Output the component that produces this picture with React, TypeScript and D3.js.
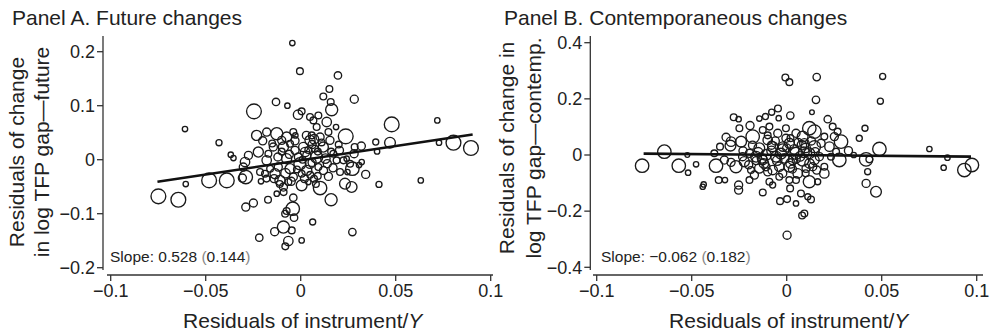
import React from 'react';
import * as d3 from 'd3';

const FONT = '"Liberation Sans", Arial, Helvetica, sans-serif';

const xTicks = [-0.1, -0.05, 0, 0.05, 0.1];
const xTickLabels = ['−0.1', '−0.05', '0', '0.05', '0.1'];
const aYTicks = [-0.2, -0.1, 0, 0.1, 0.2];
const aYTickLabels = ['−0.2', '−0.1', '0', '0.1', '0.2'];
const bYTicks = [-0.4, -0.2, 0, 0.2, 0.4];
const bYTickLabels = ['−0.4', '−0.2', '0', '0.2', '0.4'];

// [x, y, weight]
const panelAPoints: [number, number, number][] = [
  [-0.0044, 0.216, 8], [-0.0004, 0.164, 10], [0.0196, 0.156, 11], [0.0151, 0.131, 10],
  [0.0119, 0.117, 10], [0.0158, 0.107, 10], [-0.013, 0.107, 11], [-0.007, 0.1, 8],
  [-0.0246, 0.0895, 22], [0.0282, 0.112, 12], [0.0163, 0.0926, 18], [-0.0014, 0.0833, 14],
  [0.0005, 0.0895, 10], [0.0049, 0.079, 10], [0.0093, 0.082, 10], [0.0067, 0.0728, 10],
  [0.0137, 0.0698, 14], [-0.0609, 0.0568, 8], [-0.043, 0.0315, 9], [0.0479, 0.0654, 22],
  [0.0719, 0.0728, 8], [0.0237, 0.0432, 22], [0.0186, 0.0605, 8], [0.0804, 0.0315, 22],
  [0.0896, 0.0216, 22], [0.0728, 0.0315, 8], [0.047, 0.0315, 16], [0.0395, 0.0327, 9],
  [0.0402, 0.0154, 8], [0.0319, 0.0253, 12], [0.0284, 0.0235, 10], [0.0204, 0.0173, 12],
  [-0.0368, 0.0093, 8], [-0.0354, 0.0031, 8], [-0.0275, 0.008, 12], [-0.0293, -0.0043, 14],
  [-0.0302, -0.0136, 12], [-0.0223, 0.0142, 15], [-0.0232, 0.045, 15], [-0.0179, 0.0512, 12],
  [-0.0126, 0.0481, 18], [-0.0074, 0.042, 15], [-0.0039, 0.0512, 10], [-0.0028, 0.045, 8],
  [-0.0749, -0.0679, 22], [-0.0644, -0.0741, 22], [-0.0482, -0.0383, 22], [-0.0389, -0.0383, 22],
  [-0.0605, -0.0451, 8], [-0.0289, -0.0321, 20], [-0.0307, -0.034, 12], [-0.0209, -0.0401, 8],
  [-0.0172, -0.0741, 10], [-0.0249, -0.0802, 12], [-0.0289, -0.0877, 12], [-0.0218, -0.1444, 11],
  [-0.0137, -0.1333, 12], [-0.0091, -0.1247, 18], [-0.0047, -0.1309, 10], [-0.0065, -0.1506, 14],
  [-0.0081, -0.1605, 10], [0.0005, -0.1494, 8], [-0.0074, -0.0951, 10], [-0.0042, -0.0907, 20],
  [-0.0039, -0.0704, 11], [-0.0082, -0.1, 10], [-0.0035, -0.1074, 11], [0.0063, -0.1154, 9],
  [0.0272, -0.134, 11], [0.016, -0.0741, 18], [0.0102, -0.0525, 20], [0.0005, -0.0475, 16],
  [0.0272, -0.0167, 20], [0.0342, -0.0272, 12], [0.0412, -0.0457, 9], [0.0632, -0.0383, 8],
  [0.0268, -0.0506, 16], [0.0233, -0.0444, 16], [0.0207, -0.0228, 10], [0.0246, -0.0228, 8],
  [0.0281, 0.0111, 12], [0.0307, -0.0099, 8], [0.0321, -0.0043, 8], [0.0146, -0.0309, 12],
  [0.007, -0.0352, 10], [0.0032, -0.0198, 15], [-0.0004, -0.0074, 18], [0.0084, 0.0049, 18],
  [0.0119, 0.0235, 15], [0.0049, 0.0358, 15], [0.0058, 0.045, 10], [0.0102, 0.042, 12],
  [0.0154, 0.0358, 12], [0.014, -0.0074, 12], [0.0189, -0.0012, 10], [-0.0135, -0.0259, 15],
  [-0.0109, -0.0383, 15], [-0.0091, -0.0506, 12], [-0.0126, -0.063, 8], [-0.0161, -0.0167, 10],
  [-0.0179, -0.0012, 14], [-0.0056, -0.0167, 15], [-0.0074, 0.0019, 15], [-0.003, 0.0173, 12],
  [0.0014, 0.0235, 14], [0.0032, 0.008, 12], [-0.0091, 0.0235, 15], [-0.0144, 0.0235, 12],
  [-0.017, 0.0111, 10], [-0.0039, -0.0321, 12], [0.0049, -0.0074, 14], [0.0093, -0.0136, 10],
  [0.0172, 0.0111, 10], [0.0225, -0.0012, 10], [-0.0056, 0.0296, 10], [-0.01, 0.0358, 12],
  [0.0005, -0.0259, 10], [0.004, -0.0414, 8], [-0.0118, -0.0136, 12], [-0.0065, -0.0414, 10],
  [-0.0188, -0.0259, 10], [-0.0214, -0.0228, 10], [0.0084, 0.0605, 10], [0.0146, 0.0512, 10],
  [0.0242, 0.0019, 8], [0.026, -0.0074, 10], [0.0023, 0.0142, 14], [-0.0012, 0.0049, 12],
  [0.0075, 0.0204, 10],
  [-0.012, 0.005, 12], [-0.008, -0.025, 14], [-0.005, -0.04, 12], [0.002, -0.035, 12],
  [0.006, 0.028, 12], [0.009, 0.015, 10], [0.012, -0.02, 12], [-0.015, 0.03, 10],
  [-0.01, 0.015, 10], [0.003, 0.045, 12], [0.007, 0.038, 14], [0.011, 0.032, 10],
  [-0.002, -0.018, 10], [0.005, -0.028, 10], [-0.014, -0.035, 12], [-0.011, -0.045, 10],
  [0.017, -0.015, 12], [0.02, 0.028, 10], [-0.006, 0.01, 12], [0.001, 0.0, 10],
  [0.006, -0.005, 12], [0.009, -0.03, 10], [-0.02, 0.035, 12], [-0.018, -0.035, 10],
  [0.013, 0.002, 14], [0.004, 0.018, 10], [-0.003, 0.035, 12], [-0.009, -0.06, 10],
  [0.016, 0.015, 10], [0.008, -0.045, 10],
];

const panelBPoints: [number, number, number][] = [
  [-0.0007, 0.276, 10], [0.0014, 0.2595, 10], [0.0158, 0.2774, 11], [0.0505, 0.2798, 9],
  [0.0493, 0.1917, 9], [0.0154, 0.1964, 11], [-0.0046, 0.1655, 10], [-0.0079, 0.1524, 9],
  [0.0019, 0.1405, 11], [0.0133, 0.1524, 7], [-0.0279, 0.1345, 10], [-0.0253, 0.1274, 8],
  [-0.0112, 0.1369, 9], [-0.0144, 0.1298, 8], [-0.0042, 0.131, 8], [0.0216, 0.1274, 11],
  [0.0412, 0.0952, 9], [0.0382, 0.0595, 9], [0.0751, 0.0214, 8], [0.0488, 0.0214, 20],
  [0.0846, -0.0095, 8], [0.0826, -0.0452, 8], [0.0975, -0.0357, 20], [0.0935, -0.0536, 20],
  [0.0418, -0.0155, 20], [0.0435, -0.0155, 10], [0.0426, -0.0595, 9], [0.0418, -0.1012, 12],
  [0.047, -0.131, 16], [0.0325, 0.0155, 12], [0.0353, 0, 8], [0.0277, -0.0179, 20],
  [0.0286, 0.0476, 20], [0.0268, 0.0833, 10], [0.0242, 0.1012, 10], [0.0225, 0.0298, 14],
  [0.0198, -0.0655, 14], [0.0158, -0.0536, 12], [0.0119, -0.0952, 18], [0.0128, -0.1583, 10],
  [0.0111, -0.1488, 9], [0.0075, -0.1369, 10], [0.0093, -0.2083, 10], [0.0081, -0.2155, 10],
  [0.0049, -0.1726, 8], [0.0002, -0.1571, 10], [-0.0035, -0.1643, 10], [0.0002, -0.2857, 12],
  [0.0018, -0.119, 10], [-0.0126, -0.1333, 10], [-0.0091, -0.0952, 10], [-0.0074, -0.1071, 9],
  [-0.0761, -0.0381, 20], [-0.0644, 0.0119, 20], [-0.0568, -0.0381, 20], [-0.0523, 0, 7],
  [-0.0519, -0.0631, 8], [-0.0477, -0.0333, 8], [-0.0437, -0.1048, 8], [-0.0442, -0.1131, 8],
  [-0.0372, -0.0381, 20], [-0.0358, -0.0893, 10], [-0.0325, -0.0893, 8], [-0.0351, 0.0298, 10],
  [-0.0319, 0.0631, 12], [-0.0293, 0.0476, 14], [-0.0296, 0.0333, 16], [-0.0249, 0.0952, 10],
  [-0.0193, 0.1048, 12], [-0.0179, 0.0655, 20], [-0.024, 0.0476, 16], [-0.0253, -0.1071, 12],
  [-0.0253, -0.125, 12], [-0.0293, -0.0262, 12], [-0.0267, -0.0417, 18], [-0.0223, -0.0238, 15],
  [-0.0196, -0.0893, 10], [-0.017, -0.0714, 12], [-0.0144, -0.0476, 14], [-0.0126, -0.0179, 14],
  [-0.0144, 0.0238, 16], [-0.01, 0.0536, 14], [-0.0074, 0.0298, 15], [-0.0109, 0, 16],
  [-0.0056, -0.006, 16], [-0.0039, -0.0417, 14], [-0.0021, 0.0179, 18], [0.0014, 0.0417, 15],
  [0.0049, 0.0774, 12], [0.0084, 0.0655, 16], [0.0049, 0.006, 18], [0.0084, -0.0179, 18],
  [0.0119, 0.006, 16], [0.0146, 0.0298, 18], [0.0119, 0.0952, 20], [0.0146, 0.0833, 20],
  [0.0014, -0.0417, 16], [0.0058, -0.0655, 14], [-0.0021, -0.0655, 12], [-0.0074, -0.0536, 14],
  [0.0146, -0.0179, 14], [0.0172, -0.006, 12], [0.0137, -0.0417, 12], [-0.0161, -0.006, 16],
  [-0.0196, 0.006, 12], [-0.0047, 0.0774, 12], [-0.0004, 0.0952, 10], [-0.0091, 0.1012, 10],
  [-0.0126, 0.0893, 10], [0.0251, 0.0655, 12], [-0.0004, 0.0595, 12], [-0.0109, -0.0417, 12],
  [0.0049, -0.0893, 10], [0.0163, -0.0952, 9], [0.0198, -0.0417, 10], [0.0233, -0.006, 10],
  [0.026, 0.0119, 10], [-0.0232, -0.006, 12], [0.0093, 0.0417, 14], [0.0032, -0.0179, 14],
  [-0.0012, -0.0119, 14], [0.0102, -0.0476, 12], [-0.0039, -0.0774, 10], [0.0014, -0.0893, 10],
  [-0.0188, -0.0536, 10], [0.0181, 0.0417, 12], [0.0198, 0.0655, 10], [-0.0328, -0.0179, 12],
  [-0.0381, 0.006, 10],
  [-0.015, 0.01, 14], [-0.012, -0.03, 14], [-0.008, 0.015, 14], [-0.005, -0.02, 14],
  [-0.002, 0.03, 14], [0.002, -0.03, 14], [0.004, 0.02, 14], [0.007, -0.005, 14],
  [0.01, 0.025, 14], [0.012, -0.03, 14], [-0.018, 0.035, 12], [-0.02, -0.035, 12],
  [0.006, 0.045, 12], [0.003, -0.05, 12], [-0.006, 0.05, 12], [-0.01, -0.06, 12],
  [0.01, -0.065, 10], [0.013, 0.05, 12], [-0.003, 0.005, 16], [0.009, 0.01, 16],
  [-0.013, -0.012, 14], [0.015, 0.012, 12], [-0.008, 0.035, 12], [0.0, 0.025, 12],
  [-0.016, -0.02, 12], [0.005, -0.015, 12], [-0.01, 0.07, 10], [0.008, 0.035, 14],
  [-0.023, 0.015, 12], [0.002, 0.06, 10],
];

// fitted line: [intercept, slope], x-range of fit
const panelAFitCoef = [-0.001, 0.528];
const panelAFitRange = [-0.0754, 0.0905];
const panelBFitCoef = [0.0001, -0.062];
const panelBFitRange = [-0.0753, 0.097];

const panelATitle = 'Panel A. Future changes';
const panelBTitle = 'Panel B. Contemporaneous changes';
const panelAYTitle = ['Residuals of change', 'in log TFP gap—future'];
const panelBYTitle = ['Residuals of change in', 'log TFP gap—contemp.'];
const panelASlope = ['0.528', '0.144'];
const panelBSlope = ['−0.062', '0.182'];

type PanelProps = {
  points: [number, number, number][];
  yTicks: number[];
  yTickLabels: string[];
  yDomain: [number, number];
  fitCoef: number[];
  fitRange: number[];
  title: string;
  yTitle: string[];
  slope: string[];
  layout: {
    yAxisX: number; xRange: [number, number]; yRange: [number, number];
    xAxisL: number; xAxisR: number; titleX: number;
    yt1: number; yt2: number; ytCenter: number; slopeX: number;
  };
};

const Panel = ({ points, yTicks, yTickLabels, yDomain, fitCoef, fitRange, title, yTitle, slope, layout }: PanelProps) => {
  const x = d3.scaleLinear().domain([-0.1, 0.1]).range(layout.xRange);
  const y = d3.scaleLinear().domain(yDomain).range(layout.yRange);
  const r = d3.scaleLinear().domain([0, 22]).range([0, 7.4]);
  const xAxisY = 275;
  const axisColor = '#333';
  const line = d3.line<number>().x((d) => x(d)).y((d) => y(fitCoef[0] + fitCoef[1] * d));
  return (
    <g fontFamily={FONT}>
      <text x={layout.titleX} y={25} fontSize={21} fill="#222">{title}</text>
      {/* y axis */}
      <line x1={layout.yAxisX} x2={layout.yAxisX} y1={36} y2={270} stroke={axisColor} strokeWidth={1.3} />
      {yTicks.map((t, i) => (
        <g key={i}>
          <line x1={layout.yAxisX - 6} x2={layout.yAxisX} y1={y(t)} y2={y(t)} stroke={axisColor} strokeWidth={1.3} />
          <text x={layout.yAxisX - 8} y={y(t)} dy="0.35em" textAnchor="end" fontSize={18} fill="#222">{yTickLabels[i]}</text>
        </g>
      ))}
      {/* x axis */}
      <line x1={layout.xAxisL} x2={layout.xAxisR} y1={xAxisY} y2={xAxisY} stroke={axisColor} strokeWidth={1.3} />
      {xTicks.map((t, i) => (
        <g key={i}>
          <line x1={x(t)} x2={x(t)} y1={xAxisY} y2={xAxisY + 6} stroke={axisColor} strokeWidth={1.3} />
          <text x={x(t)} y={297} textAnchor="middle" fontSize={18} fill="#222">{xTickLabels[i]}</text>
        </g>
      ))}
      <text x={x(0) + 2} y={328} textAnchor="middle" fontSize={21} fill="#222">
        Residuals of instrument/<tspan fontStyle="italic">Y</tspan>
      </text>
      {/* y title */}
      <g transform={`translate(${layout.yt1},${layout.ytCenter}) rotate(-90)`}>
        <text textAnchor="middle" fontSize={21} fill="#222">{yTitle[0]}</text>
      </g>
      <g transform={`translate(${layout.yt2},${layout.ytCenter}) rotate(-90)`}>
        <text textAnchor="middle" fontSize={21} fill="#222">{yTitle[1]}</text>
      </g>
      {/* points */}
      {points.map((p, i) => (
        <circle key={i} cx={x(p[0])} cy={y(p[1])} r={r(p[2])} fill="none" stroke="#1a1a1a" strokeWidth={1.35} />
      ))}
      <path d={line(fitRange) || ''} fill="none" stroke="#111" strokeWidth={2.6} />
      <text x={layout.slopeX} y={262} fontSize={15.5} fill="#222">
        Slope: {slope[0]} <tspan fill="#888">(</tspan>{slope[1]}<tspan fill="#888">)</tspan>
      </text>
    </g>
  );
};

export default function App() {
  return (
    <svg width={992} height={335} style={{ position: 'absolute', left: 0, top: 0, background: '#fff' }}>
      <rect width={992} height={335} fill="#fff" />
      <Panel
        points={panelAPoints}
        yTicks={aYTicks}
        yTickLabels={aYTickLabels}
        yDomain={[-0.2, 0.2]}
        fitCoef={panelAFitCoef}
        fitRange={panelAFitRange}
        title={panelATitle}
        yTitle={panelAYTitle}
        slope={panelASlope}
        layout={{
          yAxisX: 103, xRange: [110.7, 490.7], yRange: [267.7, 51.7],
          xAxisL: 107, xAxisR: 493, titleX: 12,
          yt1: 24, yt2: 49, ytCenter: 152, slopeX: 110,
        }}
      />
      <Panel
        points={panelBPoints}
        yTicks={bYTicks}
        yTickLabels={bYTickLabels}
        yDomain={[-0.4, 0.4]}
        fitCoef={panelBFitCoef}
        fitRange={panelBFitRange}
        title={panelBTitle}
        yTitle={panelBYTitle}
        slope={panelBSlope}
        layout={{
          yAxisX: 590.3, xRange: [596.7, 976.7], yRange: [267.3, 42.7],
          xAxisL: 593, xAxisR: 983, titleX: 504,
          yt1: 514, yt2: 541, ytCenter: 148, slopeX: 601,
        }}
      />
    </svg>
  );
}
